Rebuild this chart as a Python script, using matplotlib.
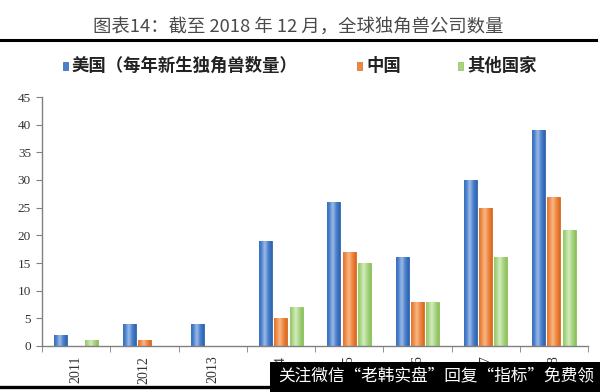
import matplotlib
matplotlib.use("Agg")
import matplotlib.pyplot as plt
from matplotlib.colors import LinearSegmentedColormap
from matplotlib.patches import Rectangle
import numpy as np

years = ["2011", "2012", "2013", "2014", "2015", "2016", "2017", "2018"]
us = [2, 4, 4, 19, 26, 16, 30, 39]
china = [0, 1, 0, 5, 17, 8, 25, 27]
others = [1, 0, 0, 7, 15, 8, 16, 21]
series_names = ["美国（每年新生独角兽数量）", "中国", "其他国家"]

cjk = ["Noto Sans CJK SC", "DejaVu Sans"]
serif = ["Liberation Serif", "DejaVu Serif"]

# (edge, light, mid) colours per series
palette = [
    ("#2e63b0", "#9dbbe6", "#4a7fcc"),
    ("#d8691f", "#f8b887", "#ee8741"),
    ("#8cc05a", "#d4ecbe", "#a8d483"),
]

fig = plt.figure(figsize=(6, 3.92), dpi=100)
W, H = 600, 392

# title and rule
fig.text(298 / W, 1 - 27 / H, "图表14：截至 2018 年 12 月，全球独角兽公司数量",
         ha="center", va="center", fontsize=13.2, color="#4a4a4a", family=cjk)
fig.add_artist(plt.Line2D([0, 596 / W], [1 - 40 / H] * 2, color="black", lw=2.2,
                          transform=fig.transFigure))

ax = fig.add_axes([42 / W, 46 / H, 546 / W, (346 - 97) / H])

x = np.arange(len(years))
width = 0.19
offsets = [-0.225, 0.0, 0.225]

grad = np.linspace(0, 1, 64)
grad = 1 - np.abs(grad - 0.45) * 1.8
grad = np.clip(grad, 0, 1)[None, :]

for vals, off, (edge, light, mid) in zip([us, china, others], offsets, palette):
    cmap = LinearSegmentedColormap.from_list("g", [edge, mid, light])
    bars = ax.bar(x + off, vals, width, color=mid, edgecolor=edge, linewidth=0.6, zorder=2)
    for b in bars:
        h = b.get_height()
        if h <= 0:
            continue
        x0 = b.get_x()
        im = ax.imshow(grad, extent=[x0, x0 + width, 0, h], aspect="auto", cmap=cmap,
                       vmin=0, vmax=1, zorder=2.5, interpolation="bilinear")
        im.set_clip_path(b)

ax.set_xlim(-0.5, len(years) - 0.5)
ax.set_ylim(0, 45)
ax.set_yticks(np.arange(0, 46, 5))
ax.set_xticks(x)
ax.set_xticklabels(years, rotation=90, family=serif, fontsize=10, color="#333333")
ax.set_xticks(np.arange(-0.5, len(years)), minor=True)
ax.tick_params(axis="x", which="major", length=0, pad=7)
ax.tick_params(axis="x", which="minor", length=4, color="#808080", direction="out")
ax.tick_params(axis="y", length=4, color="#808080", labelsize=9.5, pad=4, labelcolor="#333333")
for lab in ax.get_yticklabels():
    lab.set_family(serif)
for s in ["top", "right"]:
    ax.spines[s].set_visible(False)
for s in ["left", "bottom"]:
    ax.spines[s].set_color("#808080")
    ax.spines[s].set_linewidth(1.0)

# legend drawn by hand to match spacing
leg_y = 1 - 66 / H
for (edge, light, mid), name, lx in zip(palette, series_names, [65, 359, 460]):
    fig.add_artist(Rectangle(((lx - 2.5) / W, leg_y - 4 / H), 5 / W, 8 / H,
                             transform=fig.transFigure, facecolor=mid, edgecolor=edge, lw=0.5))
    fig.text((lx + 7) / W, leg_y, name, ha="left", va="center", fontsize=12.5,
             fontweight="bold", color="#222222", family=cjk)

# bottom rule and watermark overlay
fig.add_artist(plt.Line2D([0, 270 / W], [1 - 387 / H] * 2, color="black", lw=2.4,
                          transform=fig.transFigure))
fig.add_artist(Rectangle((270 / W, 0), 1 - 270 / W, 30 / H, transform=fig.transFigure,
                         facecolor="black", edgecolor="none", zorder=10))
fig.text(436 / W, 15 / H, "关注微信\u201c老韩实盘\u201d回复\u201c指标\u201d免费领",
         ha="center", va="center", fontsize=12, color="white", family=cjk, zorder=11)

fig.savefig("out.png", dpi=100)
